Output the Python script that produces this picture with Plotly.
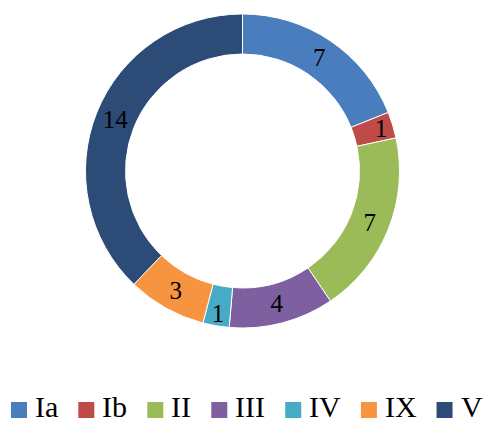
import plotly.graph_objects as go

categories = ["Ia", "Ib", "II", "III", "IV", "IX", "V"]
values = [7, 1, 7, 4, 1, 3, 14]
colors = ["#4a7dbd", "#be4b48", "#9bbb59", "#7e5fa0", "#47aac6", "#f7943f", "#2c4b77"]

W, H = 486, 423

fig = go.Figure(go.Pie(
    labels=categories,
    values=values,
    sort=False,
    direction="clockwise",
    rotation=0,
    hole=0.745,
    marker=dict(colors=colors, line=dict(color="white", width=1)),
    textinfo="value",
    textposition="inside",
    insidetextorientation="horizontal",
    textfont=dict(family="Liberation Serif", size=25, color="black"),
    domain=dict(x=[0.175, 0.823], y=[0.2246, 0.967]),
    showlegend=False,
    hoverinfo="label+value",
))

# Custom legend (Times-like metrics for layout)
adv = {"I": 0.333, "a": 0.444, "b": 0.5, "V": 0.722, "X": 0.722}
fs = 30
box = 16
gap_box_text = 8
gap_item = 20
x = 11.0
yc = 406.0
for cat, col in zip(categories, colors):
    tw = sum(adv[c] for c in cat) * fs
    fig.add_shape(type="rect", xref="paper", yref="paper",
                  x0=x / W, x1=(x + box) / W,
                  y0=(H - (410 - box / 2)) / H, y1=(H - (410 + box / 2)) / H,
                  fillcolor=col, line=dict(width=0))
    fig.add_annotation(xref="paper", yref="paper", x=(x + box + gap_box_text - 1) / W,
                       y=(H - yc) / H, xanchor="left", yanchor="middle",
                       text=cat, showarrow=False, borderpad=0,
                       font=dict(family="Liberation Serif", size=fs, color="black"))
    x += box + gap_box_text + tw + gap_item

fig.update_layout(
    width=W, height=H,
    margin=dict(l=0, r=0, t=0, b=0),
    paper_bgcolor="white",
    plot_bgcolor="white",
    uniformtext=dict(minsize=25, mode="show"),
)

fig.write_html("out.html")
